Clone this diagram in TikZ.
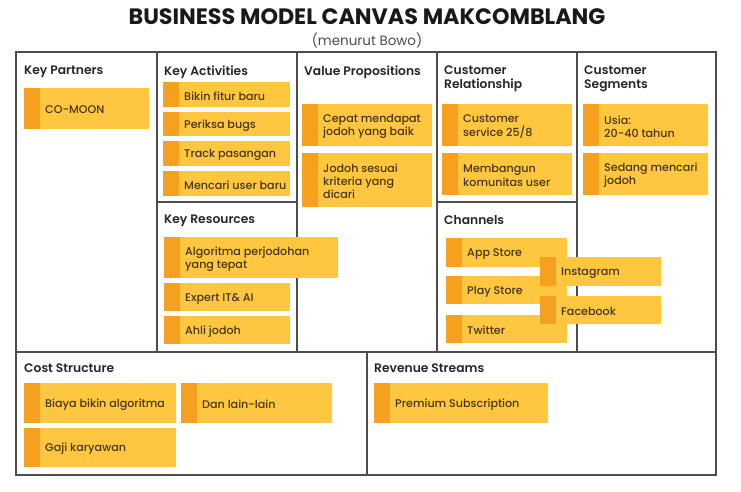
\documentclass[tikz,border=0pt]{standalone}
\usepackage{fontspec}
\setmainfont{Poppins}
\newfontfamily\titlefont{Poppins Bold}
\newfontfamily\headfont{Poppins SemiBold}
\newfontfamily\notefont{Poppins Medium}
\usetikzlibrary{calc}
\definecolor{notefill}{HTML}{FFC63F}
\definecolor{notestrip}{HTML}{F6A11D}
\definecolor{notetext}{HTML}{44360F}
\definecolor{gridline}{HTML}{4D4D4D}
\tikzstyle{heading} = [anchor=north west, inner sep=0pt, align=left, text=black!85, font=\headfont\fontsize{10.5}{12}\selectfont]
\tikzstyle{notelabel} = [anchor=west, inner sep=0pt, align=left, text=notetext, font=\notefont\fontsize{9.5}{11.3}\selectfont]
\tikzset{frameline/.style = {
    draw=gridline,
    line width=1pt,
  }
}
\newcommand{\stickynote}[6]{%
  \fill[notefill] (#2,#3) rectangle (#4,#5);
  \fill[notestrip] (#2,#3) rectangle ({#2+16},#5);
  \node[notelabel] (#1) at ({#2+21},{(#3+#5)/2+1.5}) {#6};
}

\begin{document}
\begin{tikzpicture}[x=0.03cm, y=-0.03cm]
  \useasboundingbox (0,0) rectangle (741,491);

  % title
  \node[font=\titlefont\fontsize{19}{21}\selectfont, text=black!90] (title) at (367,17) {BUSINESS MODEL CANVAS MAKCOMBLANG};
  \node[font=\fontsize{11.5}{13}\selectfont, text=black!70] (subtitle) at (367,40) {(menurut Bowo)};

  % frame
  \draw[frameline] (16,52) rectangle (716,475);
  \draw[frameline] (16,352) -- (716,352);
  \foreach \x in {157,297,437,577}
    \draw[frameline] (\x,52) -- (\x,352);
  \draw[frameline] (157,202) -- (297,202);
  \draw[frameline] (437,202) -- (577,202);
  \draw[frameline] (367,352) -- (367,475);

  % headings
  \node[heading] (partners) at (24,66) {Key Partners};
  \node[heading] (activities) at (164,66) {Key Activities};
  \node[heading] (values) at (304,66) {Value Propositions};
  \node[heading] (relation) at (444,66) {Customer\\Relationship};
  \node[heading] (segments) at (584,66) {Customer\\Segments};
  \node[heading] (resources) at (164,215) {Key Resources};
  \node[heading] (channels) at (444,215) {Channels};
  \node[heading] (costs) at (24,364) {Cost Structure};
  \node[heading] (revenue) at (374,364) {Revenue Streams};

  % notes
  \stickynote{partner1}{24}{88}{149}{129}{CO-MOON}
  \stickynote{act1}{163}{82}{290}{107}{Bikin fitur baru}
  \stickynote{act2}{163}{112}{290}{136}{Periksa bugs}
  \stickynote{act3}{163}{141}{290}{166}{Track pasangan}
  \stickynote{act4}{163}{171}{290}{196}{Mencari user baru}
  \stickynote{value1}{302}{104}{432}{146}{Cepat mendapat\\jodoh yang baik}
  \stickynote{value2}{302}{153}{432}{207}{Jodoh sesuai\\kriteria yang\\dicari}
  \stickynote{rel1}{442}{104}{572}{146}{Customer\\service 25/8}
  \stickynote{rel2}{442}{153}{572}{195}{Membangun\\komunitas user}
  \stickynote{seg1}{583}{104}{708}{146}{Usia:\\20-40 tahun}
  \stickynote{seg2}{583}{153}{708}{195}{Sedang mencari\\jodoh}
  \stickynote{res1}{164}{237}{338}{278}{Algoritma perjodohan\\yang tepat}
  \stickynote{res2}{164}{283}{290}{311}{Expert IT\& AI}
  \stickynote{res3}{164}{316}{290}{344}{Ahli jodoh}
  \stickynote{chan1}{446}{238}{567}{267}{App Store}
  \stickynote{chan2}{446}{276}{567}{304}{Play Store}
  \stickynote{chan3}{446}{315}{567}{343}{Twitter}
  \stickynote{chan4}{540}{257}{661}{286}{Instagram}
  \stickynote{chan5}{540}{296}{661}{324}{Facebook}
  \stickynote{cost1}{24}{383}{176}{423}{Biaya bikin algoritma}
  \stickynote{cost2}{181}{383}{332}{423}{Dan lain-lain}
  \stickynote{cost3}{24}{428}{176}{467}{Gaji karyawan}
  \stickynote{rev1}{374}{383}{548}{423}{Premium Subscription}

\end{tikzpicture}
\end{document}
